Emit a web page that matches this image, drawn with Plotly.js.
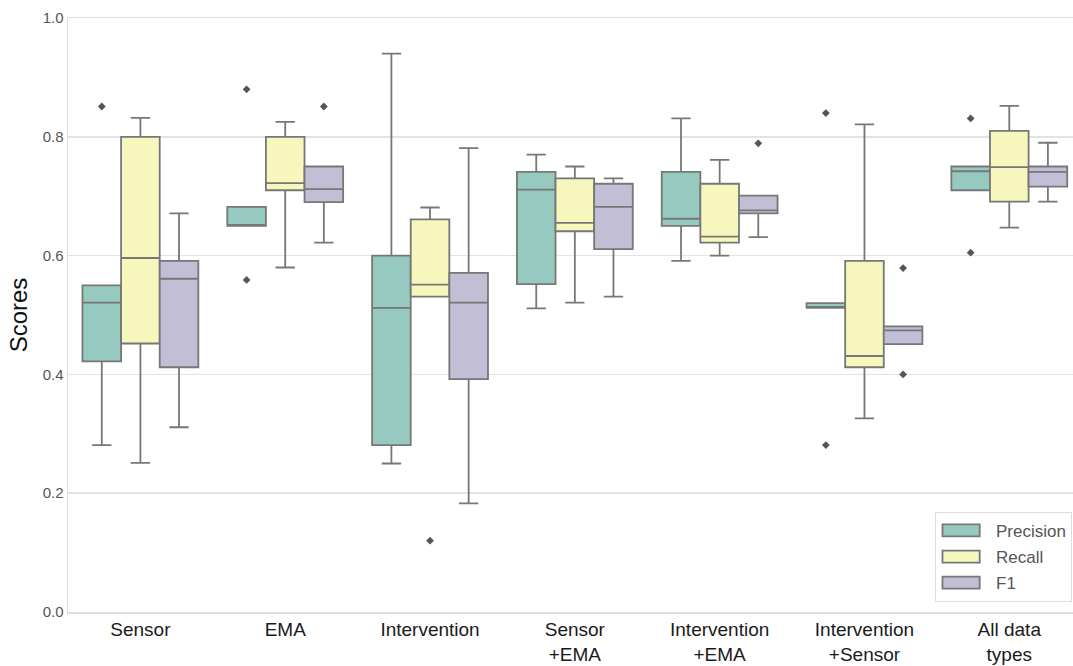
<!DOCTYPE html>
<html>
<head>
<meta charset="utf-8">
<script src="https://cdn.plot.ly/plotly-3.0.1.min.js"></script>
<style>html,body{margin:0;padding:0;background:#fff;}#chart{width:1073px;height:666px;}</style>
</head>
<body>
<div id="chart"></div>
<script>
// ---- data ----
var categories = ['Sensor', 'EMA', 'Intervention', 'Sensor+EMA', 'Intervention+EMA', 'Intervention+Sensor', 'All data types'];
var tickLabels = ['Sensor', 'EMA', 'Intervention', 'Sensor<br>+EMA', 'Intervention<br>+EMA', 'Intervention<br>+Sensor', 'All data<br>types'];

var precisionLower  = [0.281, 0.650, 0.250, 0.511, 0.591, 0.512, 0.710];
var precisionQ1     = [0.422, 0.650, 0.281, 0.552, 0.650, 0.512, 0.710];
var precisionMedian = [0.521, 0.650, 0.512, 0.711, 0.662, 0.512, 0.742];
var precisionQ3     = [0.550, 0.682, 0.600, 0.741, 0.741, 0.520, 0.750];
var precisionUpper  = [0.550, 0.682, 0.940, 0.770, 0.831, 0.520, 0.750];
var precisionOutX   = ['Sensor', 'EMA', 'EMA', 'Intervention+Sensor', 'Intervention+Sensor', 'All data types', 'All data types'];
var precisionOutY   = [0.851, 0.880, 0.559, 0.840, 0.281, 0.831, 0.605];

var recallLower  = [0.251, 0.580, 0.531, 0.521, 0.600, 0.326, 0.647];
var recallQ1     = [0.452, 0.710, 0.531, 0.641, 0.622, 0.412, 0.691];
var recallMedian = [0.596, 0.722, 0.551, 0.655, 0.632, 0.431, 0.749];
var recallQ3     = [0.800, 0.800, 0.661, 0.730, 0.721, 0.591, 0.810];
var recallUpper  = [0.832, 0.825, 0.681, 0.750, 0.761, 0.821, 0.852];
var recallOutX   = ['Intervention'];
var recallOutY   = [0.120];

var f1Lower  = [0.311, 0.622, 0.183, 0.531, 0.631, 0.451, 0.691];
var f1Q1     = [0.412, 0.690, 0.392, 0.611, 0.671, 0.451, 0.716];
var f1Median = [0.561, 0.712, 0.521, 0.682, 0.676, 0.474, 0.741];
var f1Q3     = [0.591, 0.750, 0.571, 0.721, 0.701, 0.481, 0.750];
var f1Upper  = [0.671, 0.750, 0.781, 0.730, 0.701, 0.481, 0.790];
var f1OutX   = ['EMA', 'Intervention+EMA', 'Intervention+Sensor', 'Intervention+Sensor'];
var f1OutY   = [0.851, 0.789, 0.579, 0.400];

var seriesNames = ['Precision', 'Recall', 'F1'];
var fillColors = ['#96cac1', '#f6f6bd', '#c1bed6'];

// ---- build traces ----
var edge = '#777777';
var stats = [
  [precisionLower, precisionQ1, precisionMedian, precisionQ3, precisionUpper, precisionOutX, precisionOutY],
  [recallLower, recallQ1, recallMedian, recallQ3, recallUpper, recallOutX, recallOutY],
  [f1Lower, f1Q1, f1Median, f1Q3, f1Upper, f1OutX, f1OutY]
];
var traces = [];
stats.forEach(function (s, i) {
  traces.push({
    type: 'box',
    name: seriesNames[i],
    legendgroup: 'lg' + i,
    x: categories,
    lowerfence: s[0], q1: s[1], median: s[2], q3: s[3], upperfence: s[4],
    fillcolor: fillColors[i],
    line: {color: edge, width: 1.8},
    whiskerwidth: 0.5,
    offsetgroup: 'g' + i,
    alignmentgroup: 'a',
    hoverinfo: 'skip'
  });
});
stats.forEach(function (s, i) {
  traces.push({
    type: 'scatter',
    mode: 'markers',
    x: s[5], y: s[6],
    name: seriesNames[i] + ' outliers',
    showlegend: false,
    offsetgroup: 'g' + i,
    alignmentgroup: 'a',
    marker: {symbol: 'diamond', size: 6, color: '#555555'},
    hoverinfo: 'skip'
  });
});

var layout = {
  width: 1073, height: 666,
  margin: {l: 68, r: 0, t: 18, b: 54},
  paper_bgcolor: '#ffffff', plot_bgcolor: '#ffffff',
  font: {family: 'Liberation Sans, Arial, sans-serif', color: '#222'},
  boxmode: 'group', boxgap: 0.2, boxgroupgap: 0,
  scattermode: 'group', scattergap: 0.2,
  showlegend: true,
  legend: {
    x: 0.999, y: 0.017, xanchor: 'right', yanchor: 'bottom',
    bgcolor: '#ffffff', bordercolor: '#dddddd', borderwidth: 1,
    itemwidth: 50, tracegroupgap: 1,
    font: {size: 17, color: '#555555'}
  },
  xaxis: {
    type: 'category',
    categoryorder: 'array', categoryarray: categories,
    tickvals: categories, ticktext: tickLabels,
    range: [-0.5, 6.44],
    showgrid: false, zeroline: false,
    showline: true, linecolor: '#dddddd', linewidth: 1.5, mirror: true,
    ticks: '',
    tickfont: {size: 19, color: '#1a1a1a'}
  },
  yaxis: {
    range: [0, 1],
    tickvals: [0, 0.2, 0.4, 0.6, 0.8, 1.0],
    ticktext: ['0.0', '0.2', '0.4', '0.6', '0.8', '1.0'],
    showgrid: true, gridcolor: '#e3e3e3', gridwidth: 1.5,
    zeroline: false,
    showline: true, linecolor: '#dddddd', linewidth: 1.5,
    ticks: '',
    tickfont: {size: 15, color: '#555555'},
    title: {text: 'Scores', font: {size: 24, color: '#111111'}, standoff: 8}
  }
};

Plotly.newPlot('chart', traces, layout, {displayModeBar: false, staticPlot: true}).then(function (gd) {
  // widen the legend swatches to the flat rectangles of the reference
  var bg = gd.querySelector('.legend .bg');
  var legLeft = bg ? bg.getBoundingClientRect().left : null;
  var paths = gd.querySelectorAll('.legend .legendpoints path');
  paths.forEach(function (p) {
    p.setAttribute('vector-effect', 'non-scaling-stroke');
    p.setAttribute('transform', 'scale(3.1,1)');
    if (legLeft !== null) {
      var r = p.getBoundingClientRect();
      var dx = (legLeft + 7) - r.left;
      p.setAttribute('transform', 'translate(' + dx.toFixed(1) + ',0) scale(3.1,1)');
    }
  });
});
</script>
</body>
</html>
